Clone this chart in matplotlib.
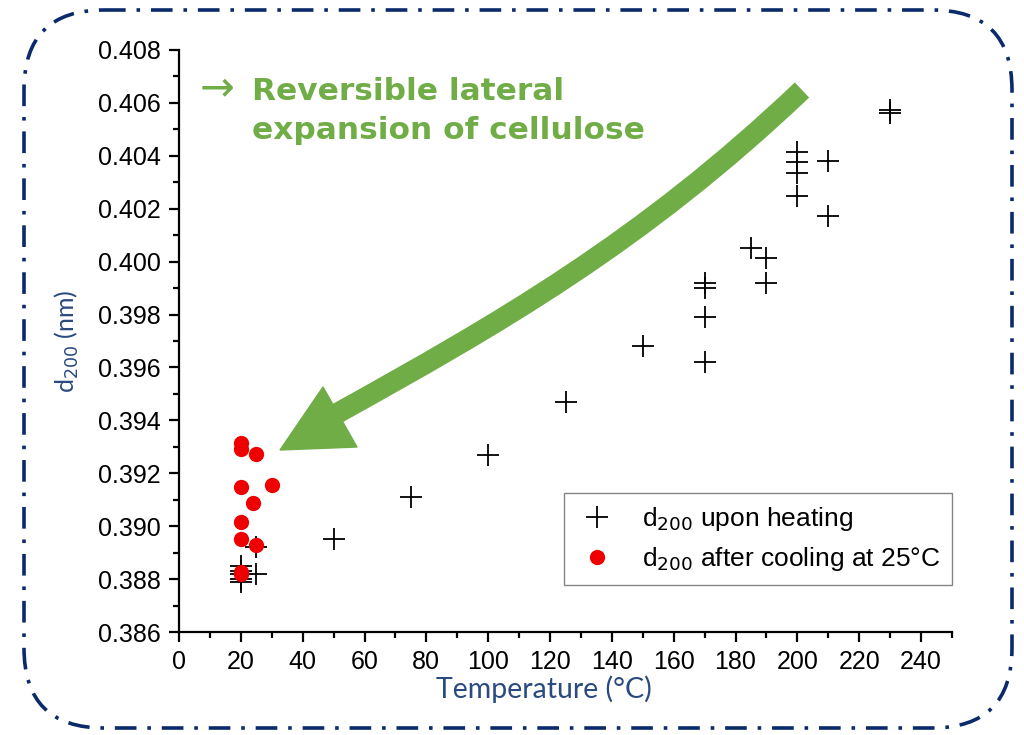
import matplotlib
matplotlib.use("Agg")
import matplotlib.pyplot as plt
from matplotlib.patches import FancyBboxPatch, Polygon
from matplotlib.path import Path
from matplotlib.patches import PathPatch
from matplotlib.ticker import MultipleLocator, FormatStrFormatter

# d200 upon heating
heat_temp = [20, 20, 20, 20, 20, 25, 25, 50, 75, 100, 125, 150,
             170, 170, 170, 170, 185, 190, 190,
             200, 200, 200, 200, 210, 210, 230, 230]
heat_d200 = [0.3885, 0.3883, 0.3882, 0.3880, 0.3879, 0.3882, 0.3892, 0.3895, 0.3911, 0.3927, 0.3947, 0.3968,
             0.39621, 0.39791, 0.39900, 0.39919, 0.40052, 0.40014, 0.39919,
             0.40414, 0.40377, 0.40335, 0.40248, 0.40380, 0.40173, 0.40573, 0.40562]

# d200 after cooling at 25 C
cool_temp = [20, 20, 25, 20, 30, 24, 20, 20, 25, 20, 20]
cool_d200 = [0.39314, 0.39292, 0.39273, 0.39148, 0.39156, 0.39088, 0.39016, 0.38952, 0.38929, 0.38827, 0.38820]

navy = "#2a4a80"
green = "#70ad47"

fig = plt.figure(figsize=(10.24, 7.35), dpi=100)
ax = fig.add_axes([179 / 1024, 1 - 632 / 735, (952 - 179) / 1024, (632 - 50) / 735])

ax.plot(heat_temp, heat_d200, linestyle="none", marker="+", markersize=16, mew=1.3,
        color="black", label="d$_{200}$ upon heating")
ax.plot(cool_temp, cool_d200, linestyle="none", marker="o", markersize=11, mew=0,
        color="#ee0000", label="d$_{200}$ after cooling at 25°C")

ax.set_xlim(0, 250)
ax.set_ylim(0.386, 0.408)
ax.xaxis.set_major_locator(MultipleLocator(20))
ax.xaxis.set_minor_locator(MultipleLocator(10))
ax.yaxis.set_major_locator(MultipleLocator(0.002))
ax.yaxis.set_minor_locator(MultipleLocator(0.001))
ax.yaxis.set_major_formatter(FormatStrFormatter("%.3f"))
ax.set_xticks([0, 20, 40, 60, 80, 100, 120, 140, 160, 180, 200, 220, 240])

for s in ["top", "right"]:
    ax.spines[s].set_visible(False)
for s in ["left", "bottom"]:
    ax.spines[s].set_linewidth(1.6)
ax.tick_params(which="major", direction="out", length=7, width=1.6, labelsize=18, pad=6)
ax.tick_params(which="minor", direction="out", length=4, width=1.6)
for lbl in ax.get_xticklabels() + ax.get_yticklabels():
    lbl.set_fontfamily("Liberation Sans")

ax.set_xlabel("Temperature (°C)", fontsize=20.5, color=navy, family="Lato", labelpad=0)
ax.xaxis.set_label_coords((544 - 179) / 773, -0.075)
ax.set_ylabel("d$_{200}$ (nm)", fontsize=18, color=navy, family="Lato", labelpad=12)

leg = ax.legend(loc="lower right", bbox_to_anchor=(1.0, 0.081), borderaxespad=0,
                prop={"family": "Liberation Sans", "size": 19},
                frameon=True, fancybox=False, edgecolor="#666666",
                handletextpad=0.9, borderpad=0.45, labelspacing=0.45, handlelength=1.6)
leg.get_frame().set_linewidth(1.0)

# overlay in pixel coordinates for arrow, note and border
ov = fig.add_axes([0, 0, 1, 1], zorder=5)
ov.set_xlim(0, 1024)
ov.set_ylim(735, 0)
ov.axis("off")
ov.patch.set_alpha(0)

border = FancyBboxPatch((24, 10), 988, 718, boxstyle="round,pad=0,rounding_size=80",
                        fill=False, edgecolor="#0b2a6a", linewidth=2.6,
                        linestyle=(0, (6, 3, 1, 3)))
ov.add_patch(border)

shaft = Path([(802, 90), (642, 242), (498, 324), (336, 414)],
             [Path.MOVETO, Path.CURVE4, Path.CURVE4, Path.CURVE4])
ov.add_patch(PathPatch(shaft, fill=False, edgecolor=green, linewidth=15, capstyle="butt"))
ov.add_patch(Polygon([(323, 387), (280, 450), (357, 447)], closed=True,
                     facecolor=green, edgecolor=green))

ov.text(200, 88, "→", fontsize=30, color=green, va="center", ha="left", family="DejaVu Sans")
ov.text(252, 111, "Reversible lateral\nexpansion of cellulose", fontsize=22.5, color=green,
        fontweight="bold", va="center", ha="left", family="DejaVu Sans", linespacing=1.45)

fig.savefig("out.png", dpi=100)
